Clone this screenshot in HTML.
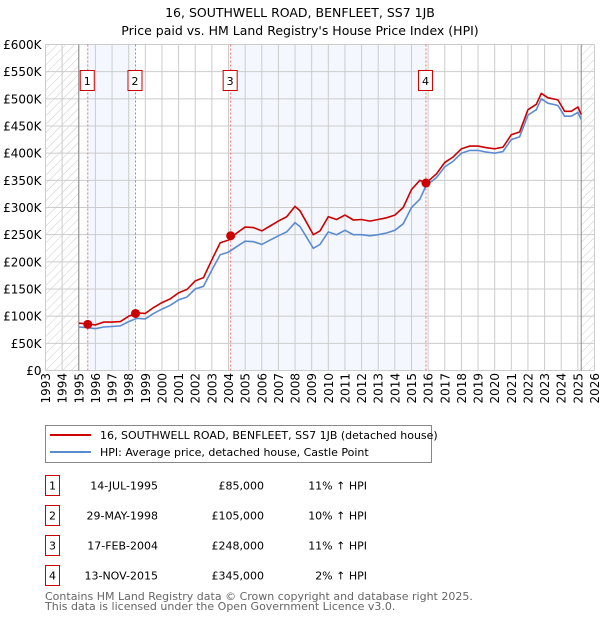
<!DOCTYPE html>
<html><head><meta charset="utf-8"><style>
body{margin:0;background:#fff;}
svg{display:block;font-family:"DejaVu Sans","Liberation Sans",sans-serif;}
</style></head><body>
<svg id="chart" width="600" height="620" viewBox="0 0 600 620">
<defs>
<pattern id="hatch" width="6" height="6" patternUnits="userSpaceOnUse" patternTransform="rotate(45)">
<line x1="0" y1="0" x2="0" y2="6" stroke="#ccc" stroke-width="1"/>
</pattern>
</defs>
<text x="300" y="17" text-anchor="middle" font-size="12.5">16, SOUTHWELL ROAD, BENFLEET, SS7 1JB</text>
<text x="300" y="35" text-anchor="middle" font-size="12.5">Price paid vs. HM Land Registry's House Price Index (HPI)</text>
<g id="bg"></g><g id="grid"></g><g id="axes"></g><g id="series"></g><g id="markers"></g>
<g>
<rect x="45.5" y="425.5" width="386" height="37" fill="#fff" stroke="#888"/>
<line x1="50" y1="435" x2="91" y2="435" stroke="#cc0000" stroke-width="2"/>
<text x="100" y="439" font-size="11">16, SOUTHWELL ROAD, BENFLEET, SS7 1JB (detached house)</text>
<line x1="50" y1="452" x2="91" y2="452" stroke="#5b8bd0" stroke-width="2"/>
<text x="100" y="456" font-size="11">HPI: Average price, detached house, Castle Point</text>
</g>
<g id="table" font-size="11"></g>
<text x="45" y="600" font-size="11" fill="#666">Contains HM Land Registry data © Crown copyright and database right 2025.</text>
<text x="45" y="610" font-size="11" fill="#666">This data is licensed under the Open Government Licence v3.0.</text>
</svg>
<script>
const hpiYears=[1995,1995.5,1996,1996.5,1997,1997.5,1998,1998.5,1999,1999.5,2000,2000.5,2001,2001.5,2002,2002.5,2003,2003.5,2004,2004.5,2005,2005.5,2006,2006.5,2007,2007.5,2008,2008.3,2008.7,2009.1,2009.5,2010,2010.5,2011,2011.5,2012,2012.5,2013,2013.5,2014,2014.5,2015,2015.5,2015.87,2016.5,2017,2017.5,2018,2018.5,2019,2019.5,2020,2020.5,2021,2021.5,2022,2022.5,2022.8,2023.2,2023.8,2024.2,2024.6,2025,2025.2];
const hpiValues=[80,79,77,80,81,82,90,96,95,105,113,120,130,135,150,155,185,213,218,228,238,237,232,240,248,255,272,265,245,225,232,255,250,258,250,250,248,250,253,258,270,300,315,340,355,375,385,400,405,405,402,400,403,425,430,470,480,500,492,488,468,468,475,462];
const priceValues=[87,86,84,89,89,90,100,106,105,116,125,132,143,149,165,171,204,235,240,253,264,263,257,266,275,283,302,294,272,250,257,283,278,286,277,278,275,278,281,286,300,333,350,345,362,383,393,408,413,413,410,408,411,434,439,480,490,510,502,498,477,477,485,471];
const saleYears=[1995.54,1998.41,2004.13,2015.87];
const salePrices=[85,105,248,345];
const saleDates=["14-JUL-1995","29-MAY-1998","17-FEB-2004","13-NOV-2015"];
const salePriceLabels=["£85,000","£105,000","£248,000","£345,000"];
const saleHpiLabels=["11% ↑ HPI","10% ↑ HPI","11% ↑ HPI","2% ↑ HPI"];
const yTicks=[0,50,100,150,200,250,300,350,400,450,500,550,600];
const xTicks=[];for(let y=1993;y<=2026;y++)xTicks.push(y);

const X0=45.5,X1=594.5,Y0=370.5,Y1=44.5;
const xs=y=>X0+(y-1993)*(X1-X0)/33;
const ys=v=>Y0-v*(Y0-Y1)/600;
const NS="http://www.w3.org/2000/svg";
function mk(tag,attrs,parent,text){const e=document.createElementNS(NS,tag);for(const k in attrs)e.setAttribute(k,attrs[k]);if(text!=null)e.textContent=text;parent.appendChild(e);return e;}
const bg=document.getElementById('bg'),grid=document.getElementById('grid'),axes=document.getElementById('axes'),series=document.getElementById('series'),markers=document.getElementById('markers'),table=document.getElementById('table');

let r=mk('rect',{x:xs(saleYears[0]),y:Y1,width:xs(saleYears[1])-xs(saleYears[0]),height:Y0-Y1,fill:'#f4f7fe'},bg);


r=mk('rect',{x:xs(saleYears[2]),y:Y1,width:xs(saleYears[3])-xs(saleYears[2]),height:Y0-Y1,fill:'#f4f7fe'},bg);


r=mk('rect',{x:X0,y:Y1,width:xs(1995)-X0,height:Y0-Y1,fill:'url(#hatch)'},bg);


r=mk('rect',{x:xs(2025.2),y:Y1,width:X1-xs(2025.2),height:Y0-Y1,fill:'url(#hatch)'},bg);



yTicks.forEach(v=>{
 mk('line',{x1:X0,x2:X1,y1:ys(v),y2:ys(v),stroke:'#ccc'},grid);
 const t=mk('text',{x:X0-4,y:ys(v)+4.5,'text-anchor':'end','font-size':'12'},axes,v===0?'£0':'£'+v+'K');
 
 
});
xTicks.forEach(y=>{
 mk('line',{x1:xs(y),x2:xs(y),y1:Y1,y2:Y0,stroke:'#ccc'},grid);
 const t=mk('text',{transform:`translate(${xs(y)+4.5},${Y0+33}) rotate(-90)`,'font-size':'12'},axes,String(y));
 
 
});
mk('line',{x1:xs(1995),x2:xs(1995),y1:Y1,y2:Y0,stroke:'#888'},grid);
mk('line',{x1:xs(2025.2),x2:xs(2025.2),y1:Y1,y2:Y0,stroke:'#888'},grid);

saleYears.forEach((y,i)=>{
 mk('line',{x1:xs(y),x2:xs(y),y1:Y1,y2:Y0,stroke:'#ee7070','stroke-dasharray':'2,2','stroke-width':'1'},grid);
 const g=mk('g',{},markers);
 
 
 mk('rect',{x:xs(y)-7.5,y:70.5,width:14,height:20,fill:'#fff',stroke:'#cc0000'},g);
 mk('text',{x:xs(y)-0.5,y:85,'text-anchor':'middle','font-size':'11'},g,String(i+1));
});

function path(vals){return hpiYears.map((y,i)=>(i?'L':'M')+xs(y).toFixed(1)+','+ys(vals[i]).toFixed(1)).join('');}
let p=mk('path',{d:path(hpiValues),fill:'none',stroke:'#5b8bd0','stroke-width':'1.6'},series);


p=mk('path',{d:path(priceValues),fill:'none',stroke:'#cc0000','stroke-width':'1.6'},series);


saleYears.forEach((y,i)=>{
 const c=mk('circle',{cx:xs(y),cy:ys(salePrices[i]),r:4.5,fill:'#cc0000'},markers);
 
 
});

saleDates.forEach((d,i)=>{
 const y0=475.5+i*30;
 const g=mk('g',{},table);
 
 
 mk('rect',{x:45.5,y:y0,width:14,height:20,fill:'#fff',stroke:'#cc0000'},g);
 mk('text',{x:52.5,y:y0+14,'text-anchor':'middle'},g,String(i+1));
 mk('text',{x:158,y:y0+14,'text-anchor':'end'},g,d);
 mk('text',{x:264,y:y0+14,'text-anchor':'end'},g,salePriceLabels[i]);
 mk('text',{x:367,y:y0+14,'text-anchor':'end'},g,saleHpiLabels[i]);
});
</script>
</body></html>
